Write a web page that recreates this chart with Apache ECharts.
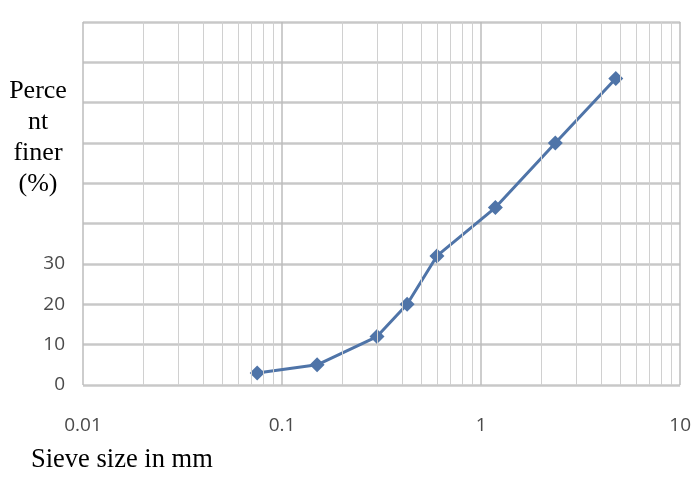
<!DOCTYPE html>
<html>
<head>
<meta charset="utf-8">
<script src="https://cdn.jsdelivr.net/npm/echarts@6/dist/echarts.min.js"></script>
<style>
  html, body { margin: 0; padding: 0; background: #fff; }
  #chart { width: 694px; height: 484px; }
</style>
</head>
<body>
<div id="chart"></div>
<script>
// sieve sizes (mm) and percent finer
var sieveSizes = [0.075, 0.15, 0.3, 0.425, 0.6, 1.18, 2.36, 4.75]
var percentFiner = [3, 5, 12, 20, 32, 44, 60, 76]
// only the lower y labels show, the rest are hidden behind the axis title
var shownYLabels = [0, 10, 20, 30]
// vertical minor grid lines (2..9 in each decade)
var minorLines = [0.02, 0.03, 0.04, 0.05, 0.06, 0.07, 0.08, 0.09,
  0.2, 0.3, 0.4, 0.5, 0.6, 0.7, 0.8, 0.9,
  2, 3, 4, 5, 6, 7, 8, 9]

var chart = echarts.init(document.getElementById('chart'))

chart.setOption({
  backgroundColor: '#fff',
  animation: false,
  grid: {
    left: 83,
    right: 13,
    top: 22,
    bottom: 99
  },
  xAxis: {
    type: 'log',
    logBase: 10,
    min: 0.01,
    max: 10,
    axisLine: { show: false },
    axisTick: { show: false },
    axisLabel: {
      color: '#4a4a4a',
      fontFamily: 'Open Sans',
      fontSize: 19,
      margin: 31,
      formatter: function(v) { return String(v) }
    },
    splitLine: {
      show: true,
      lineStyle: { color: '#bdbdbd', width: 1.5 }
    }
  },
  yAxis: {
    type: 'value',
    min: 0,
    max: 90,
    interval: 10,
    axisLine: { show: false },
    axisTick: { show: false },
    axisLabel: {
      color: '#4a4a4a',
      fontFamily: 'Open Sans',
      fontSize: 19,
      margin: 18,
      formatter: function(v) {
        return shownYLabels.indexOf(v) >= 0 ? String(v) : ''
      }
    },
    splitLine: {
      show: true,
      lineStyle: { color: '#c8c8c8', width: 2.5 }
    }
  },
  graphic: [
    {
      type: 'text',
      x: 38,
      y: 76,
      style: {
        text: 'Perce\nnt\nfiner\n(%)',
        fontFamily: 'Liberation Serif',
        fontSize: 26,
        lineHeight: 31,
        align: 'center',
        verticalAlign: 'top',
        fill: '#000'
      }
    },
    {
      type: 'text',
      x: 31,
      y: 447,
      style: {
        text: 'Sieve size in mm',
        fontFamily: 'Liberation Serif',
        fontSize: 26.5,
        verticalAlign: 'top',
        fill: '#000'
      }
    }
  ],
  series: [
    {
      type: 'line',
      silent: true,
      data: [],
      markLine: {
        silent: true,
        symbol: 'none',
        label: { show: false },
        lineStyle: { color: '#d0d0d0', width: 1, type: 'solid' },
        data: minorLines.map(function(v) { return { xAxis: v } })
      }
    },
    {
      type: 'line',
      data: sieveSizes.map(function(s, i) { return [s, percentFiner[i]] }),
      symbol: 'diamond',
      symbolSize: 15,
      lineStyle: { color: '#4f74a8', width: 3 },
      itemStyle: { color: '#4f74a8' }
    }
  ]
})
</script>
</body>
</html>
